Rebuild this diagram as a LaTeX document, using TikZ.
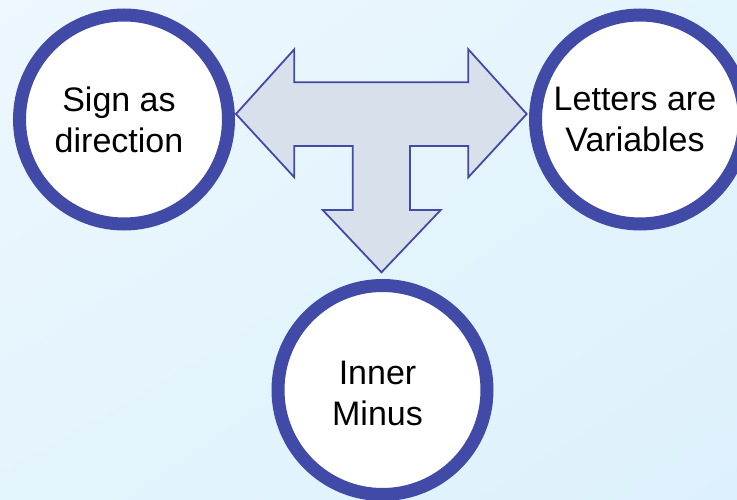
\documentclass[tikz,border=0pt]{standalone}
\usepackage{fontspec}
\setmainfont{Liberation Sans}
\usetikzlibrary{shadings}
\definecolor{ringblue}{RGB}{66,74,168}
\definecolor{arrowfill}{RGB}{216,224,235}
\definecolor{bgA}{RGB}{237,247,253}
\definecolor{bgB}{RGB}{228,244,253}
\definecolor{bgC}{RGB}{221,241,252}
\begin{document}
\begin{tikzpicture}[x=1pt,y=-1pt,
  ring/.style={circle, draw=ringblue, line width=13pt, fill=white,
    minimum size=209pt, inner sep=0pt},
  caption/.style={align=center, font=\fontsize{34}{41}\selectfont, inner sep=0pt},
  tarrow/.style={draw=ringblue, fill=arrowfill, line width=1.8pt, line join=miter}]
  % page and soft background
  \useasboundingbox (0,0) rectangle (737,500);
  \shade[upper left=bgA, upper right=bgB, lower left=bgB, lower right=bgC]
    (0,0) rectangle (737,500);

  % three rings
  \node[ring] (sign) at (124,119.5) {};
  \node[ring] (letters) at (640,119.5) {};
  \node[ring] (inner) at (382.5,390) {};

  \node[caption] (signtxt) at ([xshift=-5pt]sign.center) {Sign as\\direction};
  \node[caption] (letterstxt) at ([xshift=-5pt]letters.center) {Letters are\\Variables};
  \node[caption] (innertxt) at ([xshift=-5pt,yshift=-3pt]inner.center) {Inner\\Minus};

  % T-shaped three-way arrow
  \draw[tarrow]
    (236,114) -- (294.3,49.3) -- (294.3,82.3) -- (468.3,82.3) -- (468.3,49.3)
    -- (526.7,114) -- (468.3,177.3) -- (468.3,146) -- (410,146) -- (410,210)
    -- (440.7,210) -- (381.5,272.3) -- (322.7,210) -- (352.7,210) -- (352.7,146)
    -- (294.3,146) -- (294.3,177.3) -- cycle;
\end{tikzpicture}
\end{document}
